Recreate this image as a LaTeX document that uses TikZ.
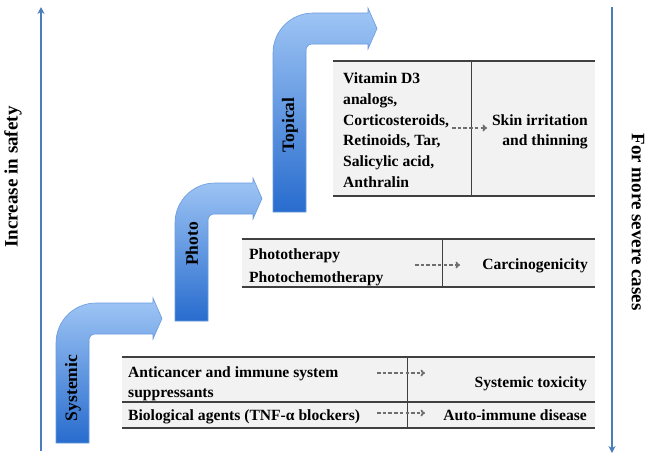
\documentclass[tikz,border=0pt]{standalone}
\usepackage{fontspec}
\setmainfont{Liberation Serif}
\usetikzlibrary{arrows.meta}
\definecolor{axisblue}{RGB}{74,126,187}
\definecolor{arrtop}{RGB}{160,198,245}
\definecolor{arrbot}{RGB}{40,108,206}
\definecolor{arredge}{RGB}{105,155,222}
\definecolor{tabfill}{RGB}{242,242,242}
\definecolor{tabline}{RGB}{64,64,64}
\definecolor{dashgrey}{RGB}{110,110,110}
\newcommand\bentarrow[4]{%
  \shade[top color=arrtop,bottom color=arrbot,draw=arredge,line width=0.6pt]
    (#1,#2) -- (#1,{#3+40}) arc[start angle=180,end angle=270,radius=40]
    -- ({#4-9},#3) -- ({#4-9},{#3-5}) -- (#4,{#3+15.5}) -- ({#4-9},{#3+36})
    -- ({#4-9},{#3+31}) -- ({#1+39},{#3+31}) arc[start angle=270,end angle=180,radius=6]
    -- ({#1+33},#2) -- cycle;}
\begin{document}
\begin{tikzpicture}[x=1pt,y=-1pt,
  txt/.style={font=\bfseries\fontsize{15.6}{20.8}\selectfont,inner sep=0pt,text=black},
  biglbl/.style={font=\bfseries\fontsize{19}{22}\selectfont,inner sep=0pt,text=black},
  arrlbl/.style={font=\bfseries\fontsize{17.5}{20}\selectfont,inner sep=0pt,text=black,rotate=90},
  axis/.style={axisblue,line width=1.8pt,-{Stealth[length=7pt,width=7pt]}},
  dasharrow/.style={dashgrey,line width=1.7pt,dash pattern=on 3.5pt off 2.2pt,-{To[length=4.5pt,width=7pt]}},
  tabrule/.style={tabline,line width=1.2pt},
  tabdiv/.style={tabline,line width=0.9pt}]
\fill[white] (0,0) rectangle (654,459);
\useasboundingbox (0,0) rectangle (654,459);

% axes
\coordinate (lb) at (41,451); \coordinate (lt) at (41,7);
\coordinate (rt) at (612,7); \coordinate (rb) at (612,453);
\draw[axis] (lb) -- (lt);
\draw[axis] (rt) -- (rb);
\node[biglbl,rotate=90] (safety) at (13,177) {Increase in safety};
\node[biglbl,rotate=-90] (severe) at (638,222) {For more severe cases};

% bent arrows
\bentarrow{56}{443}{303}{162}
\bentarrow{175}{321}{183}{262}
\bentarrow{273}{212}{13}{377}
\node[arrlbl] (sys) at (73,388) {Systemic};
\node[arrlbl] (pho) at (192,244) {Photo};
\node[arrlbl] (top) at (290,125) {Topical};

% topical table
\fill[tabfill] (333,61) rectangle (595,196);
\draw[tabrule] (333,61) -- (595,61);
\draw[tabrule] (333,196) -- (595,196);
\draw[tabdiv] (471,61) -- (471,196);
\node[txt,anchor=north west,align=left] (t1) at (343,72.5)
  {Vitamin D3\\analogs,\\Corticosteroids,\\Retinoids, Tar,\\Salicylic acid,\\Anthralin};
\node[txt,anchor=north east,align=right] (t2) at (588,114)
  {Skin irritation\\and thinning};
\coordinate (a1s) at (452,128); \coordinate (a1e) at (487,128);
\draw[dasharrow] (a1s) -- (a1e);

% photo table
\fill[tabfill] (242,239) rectangle (595,287);
\draw[tabrule] (242,239) -- (595,239);
\draw[tabrule] (242,287) -- (595,287);
\draw[tabdiv] (442,239) -- (442,287);
\node[txt,anchor=north west,align=left,font=\bfseries\fontsize{15.6}{23}\selectfont] (p1) at (249,248.5)
  {Phototherapy\\Photochemotherapy};
\node[txt,anchor=base east] (p2) at (588,269) {Carcinogenicity};
\coordinate (a2s) at (415,265); \coordinate (a2e) at (460,265);
\draw[dasharrow] (a2s) -- (a2e);

% systemic table
\fill[tabfill] (122,357) rectangle (595,428);
\draw[tabrule] (122,357) -- (595,357);
\draw[tabrule] (122,402) -- (595,402);
\draw[tabrule] (122,428) -- (595,428);
\draw[tabdiv] (407,357) -- (407,428);
\node[txt,anchor=north west,align=left,font=\bfseries\fontsize{15.6}{20}\selectfont] (s1) at (128,366.5)
  {Anticancer and immune system\\suppressants};
\node[txt,anchor=base east] (s2) at (587,387) {Systemic toxicity};
\node[txt,anchor=base west] (s3) at (128,420) {Biological agents (TNF-α blockers)};
\node[txt,anchor=base east] (s4) at (587,420) {Auto-immune disease};
\coordinate (a3s) at (377,373); \coordinate (a3e) at (425,373);
\coordinate (a4s) at (377,413); \coordinate (a4e) at (425,413);
\draw[dasharrow] (a3s) -- (a3e);
\draw[dasharrow] (a4s) -- (a4e);
\end{tikzpicture}
\end{document}
